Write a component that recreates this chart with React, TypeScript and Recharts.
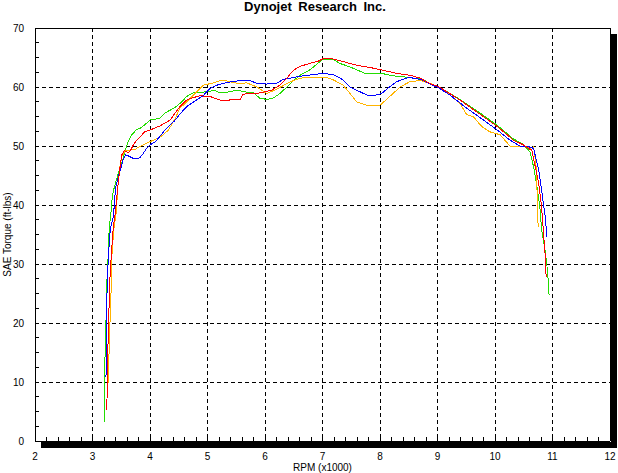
import React from 'react';
import {
  LineChart,
  Line,
  XAxis,
  YAxis,
  CartesianGrid,
  ReferenceLine,
  ReferenceArea,
} from 'recharts';

const title = 'Dynojet Research Inc.';
const xLabel = 'RPM (x1000)';
const yLabel = 'SAE Torque (ft-lbs)';

const xTicks = [2, 3, 4, 5, 6, 7, 8, 9, 10, 11, 12];
const yTicks = [0, 10, 20, 30, 40, 50, 60, 70];
const xMinorTicks = [
  2.2, 2.4, 2.6, 2.8, 3, 3.2, 3.4, 3.6, 3.8, 4, 4.2, 4.4, 4.6, 4.8, 5, 5.2, 5.4, 5.6, 5.8, 6,
  6.2, 6.4, 6.6, 6.8, 7, 7.2, 7.4, 7.6, 7.8, 8, 8.2, 8.4, 8.6, 8.8, 9, 9.2, 9.4, 9.6, 9.8, 10,
  10.2, 10.4, 10.6, 10.8, 11, 11.2, 11.4, 11.6, 11.8,
];
const yMinorTicks = [
  2.5, 5, 7.5, 10, 12.5, 15, 17.5, 20, 22.5, 25, 27.5, 30, 32.5, 35, 37.5, 40, 42.5, 45, 47.5,
  50, 52.5, 55, 57.5, 60, 62.5, 65, 67.5,
];

const redData = [
  { rpm: 3.25, t: 5.3 }, { rpm: 3.26, t: 13 }, { rpm: 3.28, t: 20 }, { rpm: 3.3, t: 27 },
  { rpm: 3.33, t: 32 }, { rpm: 3.36, t: 36 }, { rpm: 3.4, t: 39 }, { rpm: 3.44, t: 43 },
  { rpm: 3.48, t: 46.5 }, { rpm: 3.51, t: 48.5 }, { rpm: 3.55, t: 49.2 }, { rpm: 3.62, t: 48.9 },
  { rpm: 3.66, t: 49.2 }, { rpm: 3.71, t: 50.2 }, { rpm: 3.77, t: 51 }, { rpm: 3.86, t: 51.9 },
  { rpm: 3.91, t: 52.4 }, { rpm: 4.0, t: 52.7 }, { rpm: 4.17, t: 53.4 }, { rpm: 4.35, t: 54.4 },
  { rpm: 4.52, t: 56.7 }, { rpm: 4.64, t: 57.8 }, { rpm: 4.75, t: 58.2 }, { rpm: 4.87, t: 58.5 },
  { rpm: 5.04, t: 58.4 }, { rpm: 5.25, t: 57.7 }, { rpm: 5.39, t: 57.8 }, { rpm: 5.57, t: 57.9 },
  { rpm: 5.62, t: 58.8 }, { rpm: 5.86, t: 58.9 }, { rpm: 6.0, t: 59.2 }, { rpm: 6.12, t: 59.5 },
  { rpm: 6.26, t: 60.3 }, { rpm: 6.38, t: 61.5 }, { rpm: 6.49, t: 62.8 }, { rpm: 6.61, t: 63.5 },
  { rpm: 6.78, t: 64.0 }, { rpm: 6.93, t: 64.4 }, { rpm: 7.01, t: 64.8 }, { rpm: 7.16, t: 64.8 },
  { rpm: 7.36, t: 64.3 }, { rpm: 7.59, t: 63.7 }, { rpm: 7.83, t: 63.3 }, { rpm: 8.03, t: 62.9 },
  { rpm: 8.29, t: 62.3 }, { rpm: 8.52, t: 62.0 }, { rpm: 8.7, t: 61.5 }, { rpm: 8.84, t: 60.7 },
  { rpm: 9.03, t: 60.0 }, { rpm: 9.39, t: 57.8 }, { rpm: 9.68, t: 55.8 }, { rpm: 10.04, t: 53.3 },
  { rpm: 10.32, t: 51.0 }, { rpm: 10.49, t: 50.2 }, { rpm: 10.58, t: 49.6 }, { rpm: 10.64, t: 49.3 },
  { rpm: 10.7, t: 46.5 }, { rpm: 10.76, t: 43.7 }, { rpm: 10.81, t: 39.7 }, { rpm: 10.84, t: 35.8 },
  { rpm: 10.87, t: 31.8 }, { rpm: 10.89, t: 27.8 },
];

const greenData = [
  { rpm: 3.205, t: 3.3 }, { rpm: 3.21, t: 11.7 }, { rpm: 3.23, t: 18.3 }, { rpm: 3.25, t: 27 },
  { rpm: 3.275, t: 31.9 }, { rpm: 3.29, t: 36 }, { rpm: 3.32, t: 38.5 }, { rpm: 3.34, t: 41 },
  { rpm: 3.36, t: 42.3 }, { rpm: 3.4, t: 43.7 }, { rpm: 3.45, t: 45.4 }, { rpm: 3.51, t: 47.1 },
  { rpm: 3.57, t: 49.3 }, { rpm: 3.62, t: 50.7 }, { rpm: 3.68, t: 51.9 }, { rpm: 3.77, t: 52.8 },
  { rpm: 3.83, t: 53.0 }, { rpm: 3.91, t: 53.6 }, { rpm: 4.0, t: 54.4 }, { rpm: 4.17, t: 54.7 },
  { rpm: 4.26, t: 55.6 }, { rpm: 4.43, t: 56.5 }, { rpm: 4.52, t: 57.2 }, { rpm: 4.64, t: 58.4 },
  { rpm: 4.75, t: 59.0 }, { rpm: 4.87, t: 59.0 }, { rpm: 4.96, t: 59.2 }, { rpm: 5.04, t: 59.2 },
  { rpm: 5.1, t: 59.5 }, { rpm: 5.22, t: 59.0 }, { rpm: 5.39, t: 59.2 }, { rpm: 5.51, t: 59.5 },
  { rpm: 5.62, t: 59.2 }, { rpm: 5.8, t: 59.0 }, { rpm: 5.91, t: 58.1 }, { rpm: 6.03, t: 57.9 },
  { rpm: 6.14, t: 58.1 }, { rpm: 6.26, t: 58.9 }, { rpm: 6.38, t: 60.0 }, { rpm: 6.49, t: 61.0 },
  { rpm: 6.61, t: 62.0 }, { rpm: 6.78, t: 62.9 }, { rpm: 6.93, t: 64.1 }, { rpm: 7.01, t: 64.7 },
  { rpm: 7.19, t: 64.7 }, { rpm: 7.3, t: 64.0 }, { rpm: 7.48, t: 63.4 }, { rpm: 7.74, t: 62.3 },
  { rpm: 8.03, t: 62.3 }, { rpm: 8.23, t: 61.9 }, { rpm: 8.52, t: 61.6 }, { rpm: 8.75, t: 61.3 },
  { rpm: 8.84, t: 60.7 }, { rpm: 9.03, t: 60.0 }, { rpm: 9.39, t: 57.9 }, { rpm: 9.68, t: 56.0 },
  { rpm: 10.04, t: 53.5 }, { rpm: 10.32, t: 51.2 }, { rpm: 10.49, t: 50.3 }, { rpm: 10.61, t: 49.0 },
  { rpm: 10.67, t: 46.5 }, { rpm: 10.72, t: 43.7 }, { rpm: 10.78, t: 39.7 }, { rpm: 10.81, t: 35.8 },
  { rpm: 10.87, t: 32.4 }, { rpm: 10.9, t: 30.1 }, { rpm: 10.93, t: 26.7 }, { rpm: 10.94, t: 24.7 },
];

const blueData = [
  { rpm: 3.235, t: 10.8 }, { rpm: 3.24, t: 18.8 }, { rpm: 3.257, t: 27.3 }, { rpm: 3.28, t: 31.9 },
  { rpm: 3.31, t: 36 }, { rpm: 3.36, t: 38 }, { rpm: 3.38, t: 40 }, { rpm: 3.4, t: 42.8 },
  { rpm: 3.45, t: 44.8 }, { rpm: 3.5, t: 46.5 }, { rpm: 3.54, t: 47.9 }, { rpm: 3.58, t: 48.5 },
  { rpm: 3.65, t: 48.2 }, { rpm: 3.71, t: 47.9 }, { rpm: 3.77, t: 47.8 }, { rpm: 3.83, t: 48.1 },
  { rpm: 3.88, t: 48.7 }, { rpm: 3.94, t: 49.6 }, { rpm: 4.0, t: 50.2 }, { rpm: 4.09, t: 50.7 },
  { rpm: 4.17, t: 51.6 }, { rpm: 4.26, t: 52.7 }, { rpm: 4.43, t: 54.3 }, { rpm: 4.52, t: 55.4 },
  { rpm: 4.64, t: 56.7 }, { rpm: 4.81, t: 57.8 }, { rpm: 4.93, t: 58.6 }, { rpm: 5.04, t: 59.7 },
  { rpm: 5.16, t: 60.3 }, { rpm: 5.27, t: 60.6 }, { rpm: 5.42, t: 60.9 }, { rpm: 5.57, t: 61.1 },
  { rpm: 5.74, t: 61.1 }, { rpm: 5.86, t: 60.6 }, { rpm: 6.03, t: 60.5 }, { rpm: 6.2, t: 60.6 },
  { rpm: 6.32, t: 61.3 }, { rpm: 6.49, t: 61.6 }, { rpm: 6.67, t: 61.9 }, { rpm: 6.84, t: 62.1 },
  { rpm: 7.01, t: 62.3 }, { rpm: 7.19, t: 62.1 }, { rpm: 7.36, t: 61.2 }, { rpm: 7.48, t: 60.0 },
  { rpm: 7.65, t: 59.2 }, { rpm: 7.8, t: 58.5 }, { rpm: 7.91, t: 58.6 }, { rpm: 8.03, t: 58.9 },
  { rpm: 8.14, t: 59.8 }, { rpm: 8.29, t: 60.9 }, { rpm: 8.46, t: 61.5 }, { rpm: 8.52, t: 61.6 },
  { rpm: 8.7, t: 61.3 }, { rpm: 9.03, t: 59.8 }, { rpm: 9.22, t: 58.6 }, { rpm: 9.51, t: 56.4 },
  { rpm: 9.8, t: 54.4 }, { rpm: 10.04, t: 52.7 }, { rpm: 10.26, t: 51.0 }, { rpm: 10.43, t: 50.0 },
  { rpm: 10.58, t: 49.9 }, { rpm: 10.67, t: 49.6 }, { rpm: 10.72, t: 47.6 }, { rpm: 10.77, t: 45.4 },
  { rpm: 10.81, t: 42.5 }, { rpm: 10.85, t: 39.7 }, { rpm: 10.88, t: 37.5 }, { rpm: 10.9, t: 34.6 },
];

const orangeData = [
  { rpm: 3.26, t: 7.3 }, { rpm: 3.28, t: 12.5 }, { rpm: 3.3, t: 18.8 }, { rpm: 3.32, t: 24.4 },
  { rpm: 3.34, t: 31.9 }, { rpm: 3.37, t: 35.8 }, { rpm: 3.41, t: 38.6 }, { rpm: 3.43, t: 41.4 },
  { rpm: 3.45, t: 44.2 }, { rpm: 3.48, t: 46.8 }, { rpm: 3.51, t: 48.2 }, { rpm: 3.57, t: 49.2 },
  { rpm: 3.65, t: 49.3 }, { rpm: 3.74, t: 49.4 }, { rpm: 3.8, t: 49.8 }, { rpm: 3.88, t: 50.2 },
  { rpm: 3.97, t: 50.6 }, { rpm: 4.06, t: 51.0 }, { rpm: 4.14, t: 51.3 }, { rpm: 4.23, t: 51.9 },
  { rpm: 4.32, t: 52.7 }, { rpm: 4.43, t: 54.5 }, { rpm: 4.52, t: 56.4 }, { rpm: 4.64, t: 57.5 },
  { rpm: 4.78, t: 58.9 }, { rpm: 4.93, t: 60.3 }, { rpm: 5.1, t: 60.7 }, { rpm: 5.27, t: 61.2 },
  { rpm: 5.39, t: 60.9 }, { rpm: 5.54, t: 60.6 }, { rpm: 5.68, t: 60.7 }, { rpm: 5.86, t: 60.0 },
  { rpm: 6.03, t: 58.9 }, { rpm: 6.2, t: 59.6 }, { rpm: 6.38, t: 60.6 }, { rpm: 6.52, t: 61.2 },
  { rpm: 6.67, t: 61.6 }, { rpm: 7.07, t: 61.6 }, { rpm: 7.19, t: 61.2 }, { rpm: 7.36, t: 60.3 },
  { rpm: 7.48, t: 58.9 }, { rpm: 7.59, t: 57.5 }, { rpm: 7.77, t: 56.9 }, { rpm: 8.0, t: 56.9 },
  { rpm: 8.17, t: 58.4 }, { rpm: 8.35, t: 60.0 }, { rpm: 8.52, t: 60.9 }, { rpm: 8.7, t: 61.1 },
  { rpm: 8.87, t: 60.6 }, { rpm: 9.03, t: 60.0 }, { rpm: 9.22, t: 58.6 }, { rpm: 9.39, t: 57.2 },
  { rpm: 9.51, t: 55.3 }, { rpm: 9.62, t: 55.0 }, { rpm: 9.77, t: 53.3 }, { rpm: 9.91, t: 52.4 },
  { rpm: 10.09, t: 51.9 }, { rpm: 10.26, t: 50.0 }, { rpm: 10.49, t: 50.0 }, { rpm: 10.61, t: 49.6 },
  { rpm: 10.67, t: 49.9 }, { rpm: 10.7, t: 47.9 }, { rpm: 10.72, t: 45.9 }, { rpm: 10.74, t: 39.7 },
  { rpm: 10.75, t: 36.3 },
];

const FONT = '"Liberation Sans", Arial, sans-serif';

export default function App() {
  return (
    <div
      style={{
        position: 'absolute',
        left: 0,
        top: 0,
        width: 618,
        height: 473,
        background: '#ffffff',
        fontFamily: FONT,
        shapeRendering: 'crispEdges',
      }}
    >
      <div
        style={{
          position: 'absolute',
          left: 0,
          top: -1,
          width: 630,
          textAlign: 'center',
          fontSize: 13,
          fontWeight: 'bold',
          lineHeight: '15px',
          color: '#000',
          wordSpacing: 3,
        }}
      >
        {title}
      </div>
      <LineChart
        width={618}
        height={473}
        margin={{ top: 28, right: 8, left: 0, bottom: 0 }}
      >
        <CartesianGrid
          stroke="#000"
          strokeDasharray="4 3"
          horizontal
          vertical
          syncWithTicks
        />
        <XAxis
          type="number"
          dataKey="rpm"
          domain={[2, 12]}
          ticks={xTicks}
          allowDataOverflow
          height={32}
          tickSize={0}
          tickMargin={12}
          tickLine={false}
          axisLine={{ stroke: '#000' }}
          tick={{ fill: '#000', fontSize: 10, fontFamily: FONT }}
          label={{
            value: xLabel,
            position: 'insideBottom',
            offset: 2,
            fill: '#000',
            fontSize: 10,
            fontFamily: FONT,
          }}
        />
        <YAxis
          type="number"
          domain={[0, 70]}
          ticks={yTicks}
          allowDataOverflow
          width={35}
          tickSize={0}
          tickMargin={11}
          tickLine={false}
          axisLine={{ stroke: '#000' }}
          tick={{ fill: '#000', fontSize: 10, fontFamily: FONT }}
          label={{
            value: yLabel,
            angle: -90,
            position: 'insideLeft',
            offset: 7,
            fill: '#000',
            fontSize: 10,
            fontFamily: FONT,
            style: { textAnchor: 'middle' },
          }}
        />
        <ReferenceArea
          x1={2.11}
          x2={12.13}
          y1={-1.2}
          y2={-0.17}
          fill="#000"
          fillOpacity={1}
          stroke="none"
          ifOverflow="visible"
        />
        <ReferenceArea
          x1={12.02}
          x2={12.13}
          y1={-1.2}
          y2={69}
          fill="#000"
          fillOpacity={1}
          stroke="none"
          ifOverflow="visible"
        />
        <ReferenceLine y={70} stroke="#000" ifOverflow="visible" />
        <ReferenceLine x={12} stroke="#000" ifOverflow="visible" />
        {xMinorTicks.map((v) => (
          <ReferenceLine
            key={'xm' + v}
            segment={[
              { x: v, y: 0 },
              { x: v, y: 0.68 },
            ]}
            stroke="#000"
            ifOverflow="visible"
          />
        ))}
        {yMinorTicks.map((v) => (
          <ReferenceLine
            key={'ym' + v}
            segment={[
              { x: 2, y: v },
              { x: 2.07, y: v },
            ]}
            stroke="#000"
            ifOverflow="visible"
          />
        ))}
        <Line
          data={greenData}
          dataKey="t"
          type="linear"
          stroke="#22dd00"
          strokeWidth={1}
          dot={false}
          isAnimationActive={false}
        />
        <Line
          data={orangeData}
          dataKey="t"
          type="linear"
          stroke="#ffb400"
          strokeWidth={1}
          dot={false}
          isAnimationActive={false}
        />
        <Line
          data={blueData}
          dataKey="t"
          type="linear"
          stroke="#0000ff"
          strokeWidth={1}
          dot={false}
          isAnimationActive={false}
        />
        <Line
          data={redData}
          dataKey="t"
          type="linear"
          stroke="#ff0000"
          strokeWidth={1}
          dot={false}
          isAnimationActive={false}
        />
      </LineChart>
    </div>
  );
}
